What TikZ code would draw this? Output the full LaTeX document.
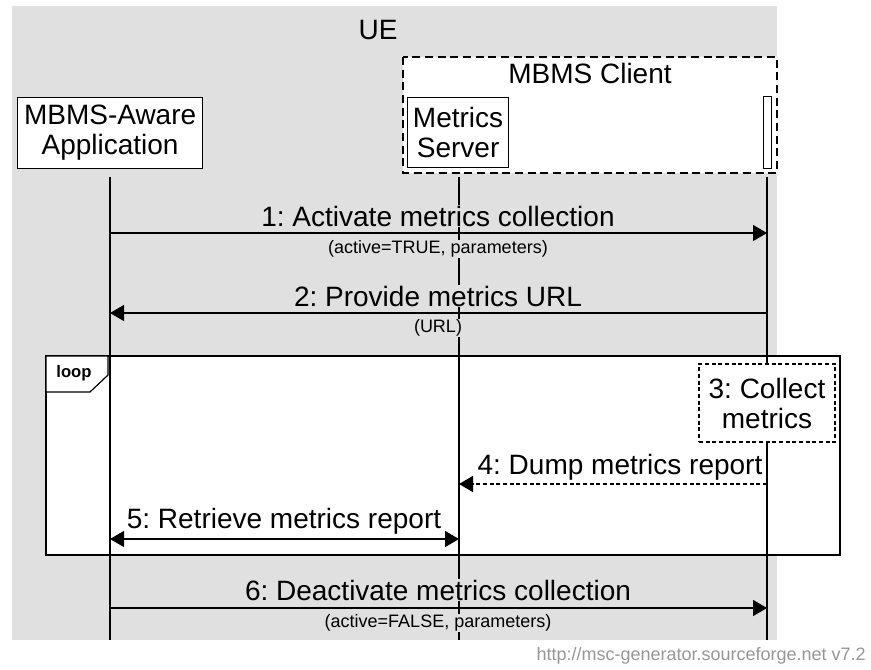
\documentclass[tikz,border=0pt]{standalone}
\usepackage{fontspec}
\setmainfont{Liberation Sans}
\usetikzlibrary{arrows.meta}
\frenchspacing
\definecolor{bggray}{RGB}{224,224,224}
\definecolor{footgray}{RGB}{150,150,150}
\tikzset{
  big/.style={font=\fontsize{21}{22.5}\selectfont},
  small/.style={font=\fontsize{13.5}{14.5}\selectfont},
  entity/.style={draw, line width=0.9pt, fill=white, big, align=center, inner sep=0pt, anchor=north west},
  lifeline/.style={line width=0.9pt},
  msg/.style={line width=0.9pt, -{Triangle[length=10.5pt,width=12pt]}},
  dmsg/.style={line width=0.9pt, {Triangle[length=10.5pt,width=12pt]}-{Triangle[length=10.5pt,width=12pt]}},
  lbl/.style={big, inner sep=0.5pt, fill=bggray},
  lblw/.style={big, inner sep=0.5pt, fill=white},
  sublbl/.style={small, inner sep=0.5pt, fill=bggray},
}
\begin{document}
\begin{tikzpicture}[x=0.75pt,y=-0.75pt]
\useasboundingbox (0,0) rectangle (871,669);
% UE background
\fill[bggray] (12,6) rectangle (777,640);
\node[big] (ue) at (378,30) {UE};
% MBMS Client group
\draw[fill=white, line width=1.1pt, dash pattern=on 6pt off 3.5pt] (403,57) rectangle (777,173);
\node[big] (client) at (590,73) {MBMS Client};
% entities
\node[entity, minimum width=185*0.75pt, minimum height=71*0.75pt] (app) at (17,97) {MBMS-Aware\\Application};
\node[entity, minimum width=101*0.75pt, minimum height=70*0.75pt] (ms) at (407,97) {Metrics\\Server};
\node[draw, line width=0.9pt, fill=white, minimum width=6pt, minimum height=72*0.75pt, inner sep=0pt, anchor=north west] (bar) at (763,96) {};
% lifeline ends
\coordinate (appTop) at (110,177);
\coordinate (msTop) at (459,177);
\coordinate (clTop) at (767,177);
\coordinate (appEnd) at (110,640);
\coordinate (msEnd) at (459,640);
\coordinate (clEnd) at (767,640);
% loop frame
\draw[fill=white, line width=1.1pt] (46,356) rectangle (840,555);
\draw[lifeline] (appTop) -- (appEnd);
\draw[lifeline] (msTop) -- (msEnd);
\draw[lifeline] (clTop) -- (clEnd);
% loop tab
\draw[line width=0.9pt, fill=white] (46,356) -- (108,356) -- (108,375) -- (90,392) -- (46,392) -- cycle;
\node[font=\fontsize{12.5}{13}\selectfont\bfseries] (looplbl) at (74,373) {loop};
% box 3
\node[draw, fill=white, line width=0.9pt, dash pattern=on 3pt off 2pt, big, align=center, minimum width=136*0.75pt, minimum height=78*0.75pt, inner sep=0pt] (collect) at (767,403) {3: Collect\\metrics};
% messages
\coordinate (m1a) at (110,233); \coordinate (m1c) at (767,233);
\draw[msg] (m1a) -- (m1c);
\node[lbl] (l1) at (438,216) {1: Activate metrics collection};
\node[sublbl] (s1) at (438,249) {(active=TRUE, parameters)};
\coordinate (m2a) at (110,313); \coordinate (m2c) at (767,313);
\draw[msg] (m2c) -- (m2a);
\node[lbl] (l2) at (438,296) {2: Provide metrics URL};
\node[sublbl] (s2) at (438,328) {(URL)};
\coordinate (m4m) at (459,484); \coordinate (m4c) at (767,484);
\draw[msg, dash pattern=on 3pt off 2pt] (m4c) -- (m4m);
\node[lblw] (l4) at (620,467) {4: Dump metrics report};
\coordinate (m5a) at (110,539); \coordinate (m5m) at (459,539);
\draw[dmsg] (m5a) -- (m5m);
\node[lblw] (l5) at (284,521) {5: Retrieve metrics report};
\coordinate (m6a) at (110,608); \coordinate (m6c) at (767,608);
\draw[msg] (m6a) -- (m6c);
\node[lbl] (l6) at (438,590) {6: Deactivate metrics collection};
\node[sublbl] (s6) at (438,623) {(active=FALSE, parameters)};
% footer
\node[font=\fontsize{13.5}{14}\selectfont, text=footgray, anchor=east, inner sep=0pt] (foot) at (866,656) {http://msc-generator.sourceforge.net v7.2};
\end{tikzpicture}
\end{document}
